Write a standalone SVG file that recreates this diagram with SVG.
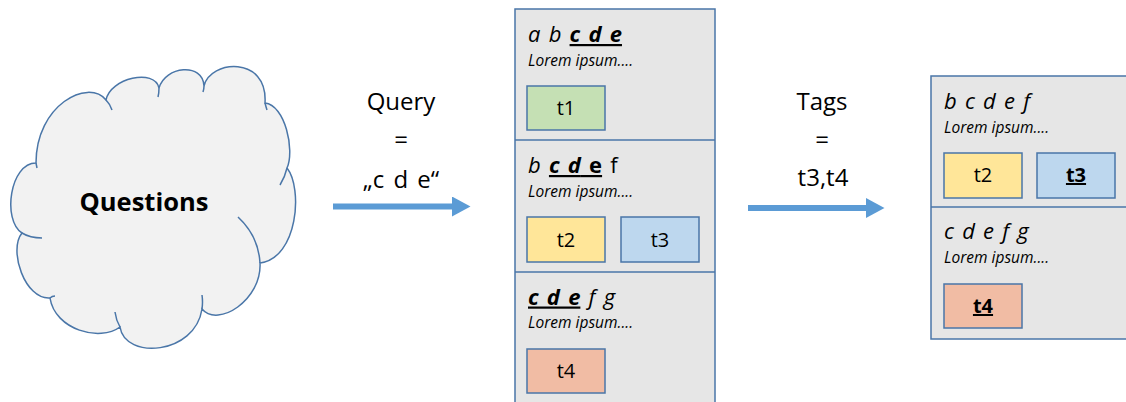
<svg xmlns="http://www.w3.org/2000/svg" width="1126" height="402" viewBox="0 0 1126 402">
  <defs>
    <style>
      .panel { fill: #e6e6e6; stroke: #4a76a8; stroke-width: 1.5; }
      .div { stroke: #4a76a8; stroke-width: 1.5; }
      .tag { stroke: #4a76a8; stroke-width: 1.5; }
      .g { fill: #c5e0b4; }
      .y { fill: #ffe699; }
      .b { fill: #bdd7ee; }
      .o { fill: #f1bca4; }
      .hdr { font-family: "Open Sans", "Liberation Sans", sans-serif; font-size: 22px; font-style: italic; word-spacing: 2.5px; fill: #000; }
      .lor { font-family: "Open Sans", "Liberation Sans", sans-serif; font-size: 15.5px; font-style: italic; fill: #000; }
      .tl { font-family: "Open Sans", "Liberation Sans", sans-serif; font-size: 20px; fill: #000; text-anchor: middle; }
      .lbl { font-family: "Open Sans", "Liberation Sans", sans-serif; font-size: 24px; fill: #000; text-anchor: middle; }
      .bu { font-weight: bold; text-decoration: underline; }
      .arrow { stroke: #5b9bd5; stroke-width: 6; fill: none; }
      .cloud { fill: #f2f2f2; stroke: #4a76a8; stroke-width: 1.5; }
      .hook { fill: none; stroke: #4a76a8; stroke-width: 1.5; }
    </style>
    <marker id="ah" markerUnits="userSpaceOnUse" markerWidth="19" markerHeight="21" refX="0" refY="10" orient="auto">
      <path d="M0,0 L18.5,10 L0,20 Z" fill="#5b9bd5"/>
    </marker>
  </defs>

  <g id="questions">
    <path class="cloud" d="M36,163 C36,105 88,78 106,100 C110,78 155,68 159,88 C165,66 203,62 204,86 C210,60 268,55 265,103 C285,105 295,150 287,168 C303,188 298,258 260,263 C262,300 218,328 202,309 C195,355 125,360 120,327 C100,342 55,330 50,298 C25,300 8,250 22,233 C2,220 10,163 36,163 Z"/>
    <path class="hook" d="M22,233 Q30,238 42,238 M36,163 L37,168 M106,100 Q110,104 112,110 M159,88 Q159,93 158,97 M204,86 Q204,89 203,92 M265,103 Q266,107 267,110 M287,168 Q285,177 280,185 M260,263 C259,245 252,230 238,217 M202,309 Q203,302 202,295 M120,327 Q116,320 115,312 M50,298 Q52,296 55,296"/>
    <text x="144" y="211" font-family="Open Sans, Liberation Sans, sans-serif" font-size="25.5" font-weight="bold" text-anchor="middle" fill="#000">Questions</text>
  </g>

  <g id="connectors">
    <line class="arrow" x1="333" y1="206.5" x2="452" y2="206.5" marker-end="url(#ah)"/>
    <line class="arrow" x1="748" y1="208" x2="866" y2="208" marker-end="url(#ah)"/>
  </g>

  <g id="query-label">
    <text class="lbl" x="401" y="110">Query</text>
    <text class="lbl" x="401" y="148">=</text>
    <text class="lbl" x="401" y="188" word-spacing="3">„c d e“</text>
  </g>

  <g id="tags-label">
    <text class="lbl" x="822" y="110">Tags</text>
    <text class="lbl" x="822" y="148">=</text>
    <text class="lbl" x="823" y="186">t3,t4</text>
  </g>

  <g id="results">
    <rect class="panel" x="515" y="9" width="200" height="410"/>
    <line class="div" x1="515" y1="140" x2="715" y2="140"/>
    <line class="div" x1="515" y1="272" x2="715" y2="272"/>

    <g id="result1">
      <text class="hdr" x="528" y="42">a b <tspan class="bu">c d e</tspan></text>
      <text class="lor" x="528" y="65.5">Lorem ipsum....</text>
      <rect class="tag g" x="527" y="86" width="78" height="44"/>
      <text class="tl" x="566" y="115">t1</text>
    </g>
    <g id="result2">
      <text class="hdr" x="528" y="173">b <tspan class="bu">c d</tspan><tspan class="bu" font-style="normal"> e</tspan><tspan font-style="normal"> f</tspan></text>
      <text class="lor" x="528" y="197">Lorem ipsum....</text>
      <rect class="tag y" x="527" y="217" width="78" height="45"/>
      <text class="tl" x="566" y="246.5">t2</text>
      <rect class="tag b" x="621" y="217" width="78" height="45"/>
      <text class="tl" x="660" y="246.5">t3</text>
    </g>
    <g id="result3">
      <text class="hdr" x="528" y="304.5"><tspan class="bu">c d e</tspan> f g</text>
      <text class="lor" x="528" y="328">Lorem ipsum....</text>
      <rect class="tag o" x="527" y="349" width="78" height="44"/>
      <text class="tl" x="566" y="378">t4</text>
    </g>
  </g>

  <g id="filtered">
    <rect class="panel" x="931" y="76" width="210" height="263"/>
    <line class="div" x1="931" y1="207" x2="1141" y2="207"/>
    <g id="filtered1">
      <text class="hdr" x="944" y="109">b c d e f</text>
      <text class="lor" x="944" y="133">Lorem ipsum....</text>
      <rect class="tag y" x="944" y="153" width="78" height="45"/>
      <text class="tl" x="983" y="182">t2</text>
      <rect class="tag b" x="1037" y="153" width="78" height="45"/>
      <text class="tl bu" x="1076" y="182">t3</text>
    </g>
    <g id="filtered2">
      <text class="hdr" x="944" y="239">c d e f g</text>
      <text class="lor" x="944" y="263">Lorem ipsum....</text>
      <rect class="tag o" x="944" y="284" width="78" height="44"/>
      <text class="tl bu" x="983" y="313">t4</text>
    </g>
  </g>
</svg>
